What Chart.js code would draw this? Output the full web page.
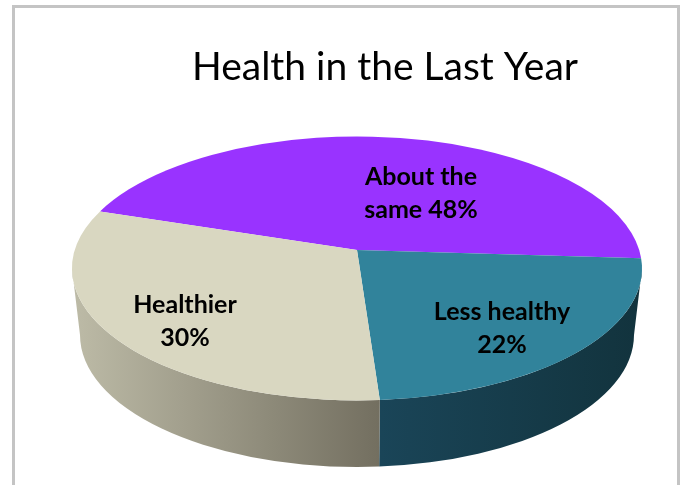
<!DOCTYPE html>
<html>
<head>
<meta charset="utf-8">
<style>
html,body{margin:0;padding:0;background:#fff;}
#wrap{position:relative;width:688px;height:485px;overflow:hidden;}
#frame{position:absolute;left:12px;top:5px;width:662px;height:480px;border:solid #c4c4c4;border-width:3px 3px 0 3px;box-sizing:content-box;}
canvas{position:absolute;left:0;top:0;}
</style>
<script src="https://cdn.jsdelivr.net/npm/chart.js@4"></script>
</head>
<body>
<div id="wrap">
<div id="frame"></div>
<canvas id="c" width="688" height="485"></canvas>
</div>
<script>
const categories = ["About the same", "Less healthy", "Healthier"];
const values = [48, 22, 30];
const topColors = ["#9933ff", "#31839b", "#d9d7c1"];
const wallLeft = ["#6a1fc0", "#1a4558", "#bdbba7"];
const wallRight = ["#6a1fc0", "#12333d", "#736f60"];
const labelLines = [["About the", "same 48%"], ["Less healthy", "22%"], ["Healthier", "30%"]];
const labelAnchors = [[421, 177], [502, 312], [185, 305]];
const titleText = "Health in the Last Year";

// Pie seen in perspective: horizontal stretch, rim depth, hub position
const stretch = 285 / 132;
const depth = 66.5;
const lowerScale = 277 / 285;
const hubRise = 18.5;
const titleShift = 28;
// Perspective warp of library angles onto the ellipse (radians)
const warpA = -0.030, warpB = -0.2033, warpC = -0.0082;
const warp = a => a + warpA + warpB * Math.cos(a) + warpC * Math.sin(a);

const pie3d = {
  id: "pie3d",
  afterLayout(chart) {
    chart.titleBlock.left += titleShift;
    chart.titleBlock.right += titleShift;
  },
  beforeDatasetDraw(chart, args) {
    const ctx = chart.ctx, arcs = args.meta.data;
    const cx = arcs[0].x, cy = arcs[0].y, ry = arcs[0].outerRadius, rx = ry * stretch;
    const lrx = rx * lowerScale;
    ctx.save();
    // side wall
    arcs.forEach((arc, i) => {
      let t0 = warp(arc.startAngle), t1 = warp(arc.endAngle);
      while (t0 > Math.PI) { t0 -= 2 * Math.PI; t1 -= 2 * Math.PI; }
      const a = Math.max(t0, 0), b = Math.min(t1, Math.PI);
      if (b <= a) return;
      const xa = cx + rx * Math.cos(a), xb = cx + rx * Math.cos(b);
      const g = ctx.createLinearGradient(xb, 0, xa, 0);
      g.addColorStop(0, wallLeft[i]);
      g.addColorStop(1, wallRight[i]);
      ctx.fillStyle = g;
      ctx.beginPath();
      ctx.ellipse(cx, cy, rx, ry, 0, a, b, false);
      ctx.ellipse(cx, cy + depth, lrx, ry, 0, b, a, true);
      ctx.closePath();
      ctx.fill();
    });
    // top face
    arcs.forEach((arc, i) => {
      ctx.fillStyle = arc.options.backgroundColor;
      ctx.beginPath();
      ctx.moveTo(cx, cy - hubRise);
      ctx.ellipse(cx, cy, rx, ry, 0, warp(arc.startAngle), warp(arc.endAngle), false);
      ctx.closePath();
      ctx.fill();
    });
    ctx.restore();
    return false;
  },
  afterDraw(chart) {
    const ctx = chart.ctx;
    ctx.save();
    ctx.fillStyle = "#000";
    ctx.font = "bold 25px Lato";
    ctx.textAlign = "center";
    ctx.textBaseline = "middle";
    labelLines.forEach((lines, i) => {
      lines.forEach((line, j) => {
        ctx.fillText(line, labelAnchors[i][0], labelAnchors[i][1] + j * 33);
      });
    });
    ctx.restore();
  }
};

new Chart(document.getElementById("c"), {
  type: "pie",
  data: {
    labels: categories,
    datasets: [{ data: values, backgroundColor: topColors, borderWidth: 0 }]
  },
  options: {
    responsive: false,
    animation: false,
    rotation: 286,
    layout: { padding: { left: 26, right: 0, top: 44, bottom: 84.5 } },
    plugins: {
      legend: { display: false },
      tooltip: { enabled: false },
      title: {
        display: true,
        text: titleText,
        color: "#000",
        font: { family: "Lato", size: 39, weight: "normal", lineHeight: 1.2 },
        padding: { top: 0, bottom: 45.7 }
      }
    }
  },
  plugins: [pie3d]
});
</script>
</body>
</html>
